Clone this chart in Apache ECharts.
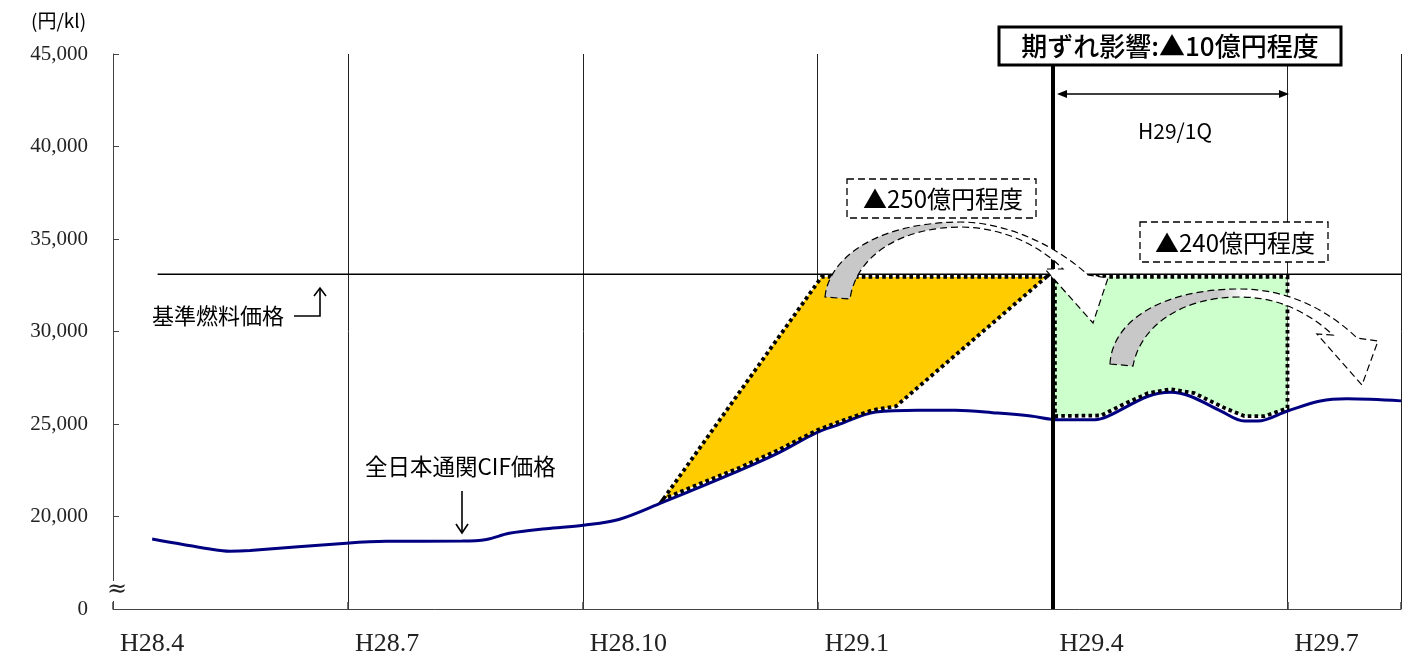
<!DOCTYPE html>
<html>
<head>
<meta charset="utf-8">
<script src="https://cdn.jsdelivr.net/npm/echarts@6/dist/echarts.min.js"></script>
<style>
html,body{margin:0;padding:0;background:#fff;overflow:hidden;}
#c{width:1404px;height:657px;}
</style>
</head>
<body>
<div id="c"></div>
<script>
// ---- data (x = months from H28.4, y = 円/kl) ----
const xTickLabels = ['H28.4','H28.7','H28.10','H29.1','H29.4','H29.7'];
const cifMonths = [0.50,1.24,1.49,1.75,2.98,3.49,4.46,4.77,5.06,5.53,6.01,6.46,7.01,7.99,8.50,8.98,9.26,9.74,10.28,10.76,11.30,11.72,12.07,12.54,12.71,13.22,13.51,13.76,14.15,14.45,14.62,15.00,15.42,15.76,16.45];
const cifValues = [18780,18240,18120,18160,18560,18660,18670,18760,19090,19340,19530,19840,20750,22470,23440,24520,24950,25650,25750,25750,25590,25430,25230,25230,25430,26500,26720,26500,25700,25160,25160,25700,26240,26360,26250];
const basePrice = 33100;
const baseRange = [0.57, 16.45];
const yellowX = [7.03, 9.05, 11.92, 10.0, 9.7, 9.3, 9.0, 8.5, 8.0, 7.5];
const yellowY = [20950, 32950, 32950, 25960, 25750, 25160, 24680, 23600, 22630, 21780];
const greenX = [12.03, 15.0, 15.0, 14.71, 14.45, 14.2, 13.81, 13.51, 13.22, 12.9, 12.62, 12.03];
const greenY = [32950, 32950, 25860, 25430, 25430, 25860, 26667, 26882, 26667, 26050, 25460, 25430];
const lagMonth = 12;

const JP = '"Noto Sans CJK JP", sans-serif';
const chart = echarts.init(document.getElementById('c'));

function polySeries(xs, ys, fill) {
  return {
    type: 'custom', coordinateSystem: 'cartesian2d', silent: true, clip: false, z: 3,
    data: [[xs[0], ys[0]]],
    renderItem: function (params, api) {
      const pts = xs.map((x, i) => api.coord([x, ys[i]]));
      return { type: 'polygon', shape: { points: pts },
        style: { fill: fill, stroke: '#000', lineWidth: 3.8, lineDash: [3.6, 3.2] } };
    }
  };
}

const T = (text, x, y, size, align, weight) => ({
  type: 'text', z: 110,
  style: { text: text, x: x, y: y, font: (weight ? weight + ' ' : '') + size + 'px ' + JP, fill: '#000', align: align || 'left', verticalAlign: 'middle' }
});

const grayGrad = (stop) => new echarts.graphic.LinearGradient(0, 0, 1, 0, [
  { offset: 0, color: '#c8c8c8' }, { offset: stop, color: '#c8c8c8' }, { offset: stop + 0.1, color: '#ffffff' }, { offset: 1, color: '#ffffff' }
]);

// decorative curved arrows (annotation shapes)
const arrowPaths = [
  'M825,297 C828,262 870,223 960,222 C1010,222 1060,249 1088,275 L1108,278 L1093,323 L1045,269 L1063,269 C1040,246 1005,228 962,227 C900,227 856,256 850,299 Z',
  'M1110,364 C1112,322 1160,289 1240,289 C1290,289 1330,312 1357,338 L1378,341 L1362,385 L1317,334 L1333,335 C1310,314 1280,297 1240,297 C1180,297 1140,327 1133,366 Z'
];

chart.setOption({
  animation: false,
  grid: { left: 113, right: 0, top: 54, bottom: 45, containLabel: false },
  xAxis: {
    type: 'value', min: 0, max: 16.45, interval: 3,
    axisLine: { lineStyle: { color: '#444', width: 1 } },
    axisTick: { inside: true, length: 7, lineStyle: { color: '#444', width: 1.5 } },
    splitLine: { show: true, lineStyle: { color: '#222', width: 1 } },
    axisLabel: {
      align: 'left', padding: [0, 0, 0, 7], margin: 22,
      fontFamily: '"Liberation Serif", serif', fontSize: 26, color: '#222',
      formatter: v => (Math.abs(v / 3 - Math.round(v / 3)) < 1e-6 && xTickLabels[Math.round(v / 3)]) || ''
    }
  },
  yAxis: {
    type: 'value', min: 15000, max: 45000, interval: 5000,
    axisLine: { show: true, lineStyle: { color: '#444', width: 1 } },
    axisTick: { show: true, inside: true, length: 6, lineStyle: { color: '#444' } },
    splitLine: { show: false },
    axisLabel: {
      margin: 25, fontFamily: '"Liberation Serif", serif', fontSize: 21, color: '#222',
      formatter: v => v === 15000 ? '0' : v.toLocaleString('en-US')
    }
  },
  series: [
    polySeries(yellowX, yellowY, '#FFCC00'),
    polySeries(greenX, greenY, '#CCFFCC'),
    {
      type: 'line', data: baseRange.map(x => [x, basePrice]), symbol: 'none', silent: true, z: 2,
      lineStyle: { color: '#000', width: 1.5 },
      markLine: { silent: true, symbol: 'none', label: { show: false }, z: 4,
        lineStyle: { color: '#000', width: 4, type: 'solid' }, data: [{ xAxis: lagMonth }] }
    },
    {
      type: 'line', data: cifMonths.map((m, i) => [m, cifValues[i]]), symbol: 'none', smooth: 0.35, silent: true, z: 2,
      lineStyle: { color: '#000080', width: 3 }
    },
    {
      type: 'custom', coordinateSystem: 'none', silent: true, z: 6, data: [0],
      renderItem: function () {
        return { type: 'group', children: arrowPaths.map(p => ({
          type: 'path', shape: { pathData: p },
          style: { fill: grayGrad(0.4), stroke: '#000', lineWidth: 1.2, lineDash: [7, 4] }
        })) };
      }
    }
  ],
  graphic: [
    T('(円/kl)', 31, 21, 19),
    // axis break
    { type: 'rect', z: 100, shape: { x: 108, y: 581, width: 12, height: 20 }, style: { fill: '#fff' } },
    { type: 'text', z: 101, style: { text: '≈', x: 117, y: 590, font: '24px "DejaVu Serif", serif', fill: '#222', align: 'center', verticalAlign: 'middle' } },
    // labels with arrows
    T('基準燃料価格', 152, 316, 22),
    { type: 'polyline', z: 100, shape: { points: [[294, 316], [320, 316], [320, 289]] }, style: { stroke: '#000', lineWidth: 1.6, fill: null } },
    { type: 'polyline', z: 100, shape: { points: [[314, 296], [320, 288], [326, 296]] }, style: { stroke: '#000', lineWidth: 1.6, fill: null } },
    T('全日本通関CIF価格', 365, 466, 22.5),
    { type: 'polyline', z: 100, shape: { points: [[462, 491], [462, 532]] }, style: { stroke: '#000', lineWidth: 1.6, fill: null } },
    { type: 'polyline', z: 100, shape: { points: [[456, 524], [462, 533], [468, 524]] }, style: { stroke: '#000', lineWidth: 1.6, fill: null } },
    // top box
    { type: 'rect', z: 105, shape: { x: 999, y: 27, width: 342, height: 38 }, style: { fill: '#fff', stroke: '#000', lineWidth: 3 } },
    T('期ずれ影響:▲10億円程度', 1170, 46, 26, 'center', 500),
    // H29/1Q span arrow
    { type: 'line', z: 100, shape: { x1: 1064, y1: 94, x2: 1282, y2: 94 }, style: { stroke: '#000', lineWidth: 1.3 } },
    { type: 'polygon', z: 100, shape: { points: [[1057, 94], [1067, 90], [1067, 98]] }, style: { fill: '#000' } },
    { type: 'polygon', z: 100, shape: { points: [[1289, 94], [1279, 90], [1279, 98]] }, style: { fill: '#000' } },
    T('H29/1Q', 1175, 131, 21, 'center'),
    // dashed value boxes
    { type: 'rect', z: 105, shape: { x: 847, y: 179, width: 189, height: 39 }, style: { fill: '#fff', stroke: '#000', lineWidth: 1.3, lineDash: [7, 4] } },
    T('▲250億円程度', 943, 199, 24, 'center'),
    { type: 'rect', z: 105, shape: { x: 1140, y: 222, width: 188, height: 40 }, style: { fill: '#fff', stroke: '#000', lineWidth: 1.3, lineDash: [7, 4] } },
    T('▲240億円程度', 1235, 243, 24, 'center')
  ]
});
</script>
</body>
</html>
